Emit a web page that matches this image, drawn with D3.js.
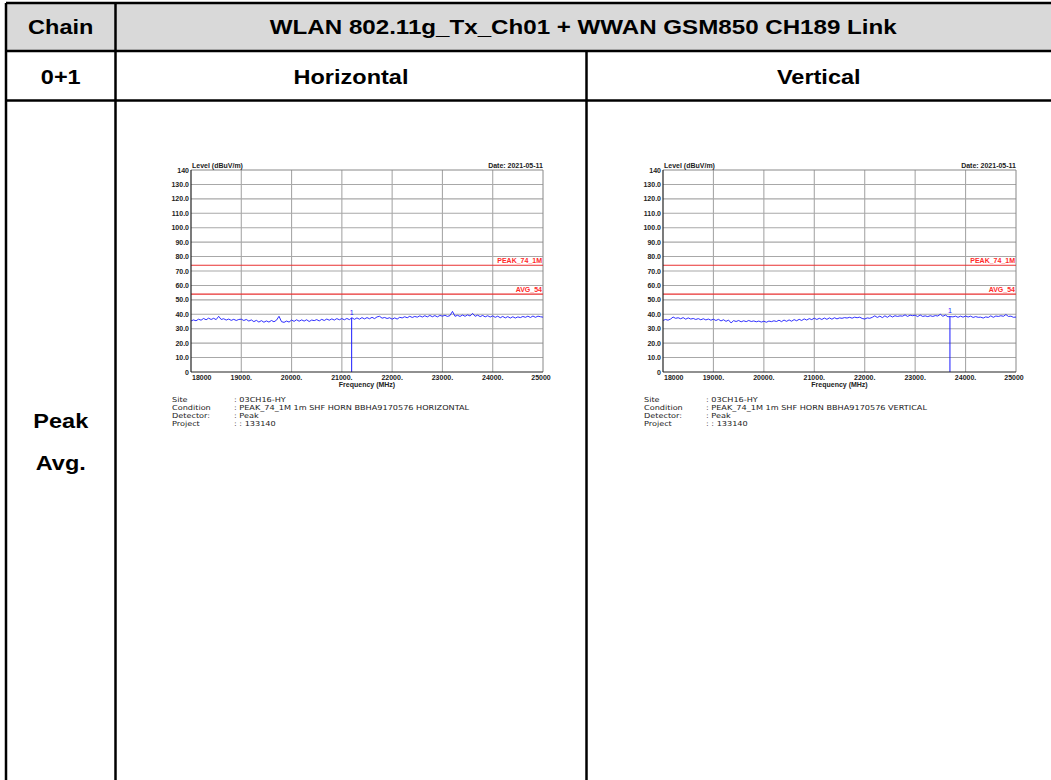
<!DOCTYPE html>
<html lang="en">
<head>
    <meta charset="UTF-8">
    <title>WLAN 802.11g + WWAN GSM850</title>
    <script src="https://d3js.org/d3.v7.min.js"></script>
    <style>
        body { margin: 0; background: #fff; }
        svg { display: block; }
        .cell-text { font-family: "Liberation Sans", Arial, sans-serif; font-weight: bold; font-size: 21px; fill: #000; }
        .tick-text { font-family: "Liberation Sans", Arial, sans-serif; font-weight: bold; font-size: 7px; fill: #222; }
        .info-text { font-family: "DejaVu Sans", sans-serif; font-size: 6.9px; fill: #222; }
    </style>
</head>
<body>
    <div id="chart"></div>
    <script>
        // measured trace, one value every 50 MHz from 18000 to 25000 MHz (dBuV/m)
        const freqs = d3.range(18000, 25001, 50);

        const horizontal_level = [
            35.4, 36.1, 35.5, 36.6, 35.9, 37.1, 36.2, 37.3, 36.4, 37.2, 36.3, 38.6, 36.4, 36.9, 36.0, 36.7, 35.8, 36.5, 35.7, 36.4,
            36.6, 35.7, 36.4, 35.3, 36.1, 34.9, 35.8, 34.6, 35.6, 34.5, 35.4, 34.6, 35.7, 34.8, 35.9, 38.6, 34.9, 34.4, 35.3, 34.6,
            36.0, 35.1, 36.2, 35.2, 36.1, 35.3, 36.2, 35.0, 36.0, 35.6, 36.3, 35.4, 36.5, 35.7, 36.7, 35.9, 36.8, 36.0, 37.0, 36.2,
            37.0, 36.2, 37.1, 36.3, 37.6, 36.5, 37.5, 36.6, 37.7, 36.8, 37.7, 36.9, 37.9, 37.0, 38.2, 38.6, 37.3, 37.8, 37.1, 37.6,
            36.6, 37.5, 36.7, 37.9, 37.5, 38.3, 37.6, 38.6, 37.8, 38.5, 38.0, 38.9, 38.1, 39.0, 38.2, 39.2, 38.3, 39.1, 38.2, 39.2,
            38.7, 39.3, 38.5, 39.1, 42.0, 38.6, 39.3, 38.5, 39.5, 38.6, 39.6, 38.8, 40.6, 38.6, 39.4, 38.4, 39.2, 38.2, 39.0, 38.1,
            38.9, 37.9, 38.7, 37.6, 38.5, 37.5, 38.4, 37.4, 38.3, 37.4, 38.2, 37.7, 38.5, 37.9, 38.7, 37.8, 38.8, 37.9, 38.7, 38.3,
            38.0
        ];

        const vertical_level = [
            35.7, 36.4, 35.9, 36.7, 38.1, 37.2, 37.6, 36.9, 37.7, 36.6, 37.5, 36.7, 37.1, 36.4, 37.0, 36.2, 36.9, 36.1, 36.7, 35.9,
            36.6, 35.7, 36.5, 35.4, 36.2, 35.1, 36.0, 34.0, 35.6, 35.0, 35.7, 34.8, 35.5, 34.9, 35.7, 35.0, 35.4, 34.8, 35.3, 34.6,
            35.2, 34.5, 35.3, 34.9, 35.5, 35.0, 35.9, 34.9, 36.0, 35.1, 36.1, 35.2, 36.3, 35.5, 36.5, 35.7, 36.8, 36.0, 37.0, 36.3,
            37.3, 36.4, 37.2, 36.4, 37.4, 36.5, 37.5, 36.6, 37.6, 36.8, 37.5, 37.2, 37.7, 37.4, 37.9, 37.3, 38.0, 37.6, 38.0, 37.1,
            36.7, 37.5, 37.2, 37.9, 38.9, 37.8, 38.7, 37.7, 38.9, 37.9, 39.1, 38.1, 39.0, 38.5, 38.9, 38.7, 39.6, 38.5, 39.4, 39.0,
            39.4, 38.4, 39.5, 38.5, 38.9, 38.4, 39.0, 38.5, 39.1, 38.8, 40.0, 38.6, 39.5, 38.3, 38.4, 38.2, 38.7, 37.9, 38.7, 38.0,
            38.8, 38.1, 38.7, 37.8, 38.4, 37.9, 38.0, 37.4, 38.2, 37.8, 38.9, 37.9, 38.8, 38.5, 39.0, 38.6, 39.8, 38.5, 38.7, 37.9,
            38.1
        ];

        const x_ticks = [18000, 19000, 20000, 21000, 22000, 23000, 24000, 25000];
        const x_tick_labels = ["18000", "19000.", "20000.", "21000.", "22000.", "23000.", "24000.", "25000"];
        const y_ticks = [0, 10, 20, 30, 40, 50, 60, 70, 80, 90, 100, 110, 120, 130, 140];
        const y_tick_labels = ["0", "10.0", "20.0", "30.0", "40.0", "50.0", "60.0", "70.0", "80.0", "90.0", "100.0", "110.0", "120.0", "130.0", "140"];

        const limit_names = ["PEAK_74_1M", "AVG_54"];
        const limit_values = [74, 54];

        const markers = [{freq: 21195, level: 37.5}, {freq: 23690, level: 38.8}];
        const info_keys = ["Site", "Condition", "Detector:", "Project"];
        const info_horizontal = [": 03CH16-HY", ": PEAK_74_1M 1m SHF HORN BBHA9170576 HORIZONTAL", ": Peak", ": : 133140"];
        const info_vertical = [": 03CH16-HY", ": PEAK_74_1M 1m SHF HORN BBHA9170576 VERTICAL", ": Peak", ": : 133140"];

        const W = 1051, H = 780;
        const svg = d3.select("#chart").append("svg")
            .attr("width", W)
            .attr("height", H);

        // ---- table frame ----
        const tb_left = 6, tb_top = 3, col1 = 115.5, mid = 586.5, row1 = 51, row2 = 100.5, tb_right = 1055;

        svg.append("rect")
            .attr("x", tb_left).attr("y", tb_top)
            .attr("width", tb_right - tb_left).attr("height", row1 - tb_top)
            .attr("fill", "#d9d9d9");

        const frame_lines = [
            [tb_left, tb_top, tb_right, tb_top],
            [tb_left, row1, tb_right, row1],
            [tb_left, row2, tb_right, row2],
            [tb_left, tb_top, tb_left, H + 5],
            [col1, tb_top, col1, H + 5],
            [mid, row1, mid, H + 5]
        ];
        svg.selectAll("line.frame")
            .data(frame_lines)
            .enter()
            .append("line")
            .attr("x1", d => d[0]).attr("y1", d => d[1])
            .attr("x2", d => d[2]).attr("y2", d => d[3])
            .attr("stroke", "#000")
            .attr("stroke-width", 2.5);

        function cell_text(txt, cx, baseline, sx) {
            svg.append("text")
                .attr("class", "cell-text")
                .attr("text-anchor", "middle")
                .attr("transform", `translate(${cx},${baseline}) scale(${sx || 1.12},1)`)
                .text(txt);
        }
        cell_text("Chain", (tb_left + col1) / 2, 34);
        cell_text("WLAN 802.11g_Tx_Ch01 + WWAN GSM850 CH189 Link", (col1 + 1051) / 2, 34, 1.15);
        cell_text("0+1", (tb_left + col1) / 2, 83.5);
        cell_text("Horizontal", (col1 + mid) / 2, 83.5);
        cell_text("Vertical", (mid + 1051) / 2, 83.5);
        cell_text("Peak", (tb_left + col1) / 2, 427.5);
        cell_text("Avg.", (tb_left + col1) / 2, 469.5);

        // ---- spectrum plot ----
        function draw_plot(px, pw, levels, marker, info) {
            const py = 170, ph = 202;
            const g = svg.append("g");

            const x = d3.scaleLinear().domain([18000, 25000]).range([px, px + pw]);
            const y = d3.scaleLinear().domain([0, 140]).range([py + ph, py]);

            // horizontal grid
            g.selectAll("line.hgrid")
                .data(y_ticks.slice(1, -1))
                .enter()
                .append("line")
                .attr("x1", px).attr("x2", px + pw)
                .attr("y1", d => y(d)).attr("y2", d => y(d))
                .attr("stroke", "#a8a8a8")
                .attr("stroke-width", 1.1);

            // vertical grid
            g.selectAll("line.vgrid")
                .data(x_ticks.slice(1, -1))
                .enter()
                .append("line")
                .attr("x1", d => x(d)).attr("x2", d => x(d))
                .attr("y1", py).attr("y2", py + ph)
                .attr("stroke", "#a8a8a8")
                .attr("stroke-width", 1.1);

            // frame: top/right gray, left/bottom dark
            g.append("line").attr("x1", px).attr("x2", px + pw).attr("y1", py).attr("y2", py)
                .attr("stroke", "#888").attr("stroke-width", 1);
            g.append("line").attr("x1", px + pw).attr("x2", px + pw).attr("y1", py).attr("y2", py + ph)
                .attr("stroke", "#888").attr("stroke-width", 1);

            // limit lines
            limit_values.forEach((v, i) => {
                g.append("line")
                    .attr("x1", px).attr("x2", px + pw)
                    .attr("y1", y(v)).attr("y2", y(v))
                    .attr("stroke", "#e83030")
                    .attr("stroke-width", 1.2);
                g.append("text")
                    .attr("class", "tick-text")
                    .attr("x", px + pw - 1)
                    .attr("y", y(v) - 2)
                    .attr("text-anchor", "end")
                    .style("fill", "#ff2a2a")
                    .text(limit_names[i]);
            });

            // trace
            const line = d3.line()
                .x((d, i) => x(freqs[i]))
                .y(d => y(d));
            g.append("path")
                .datum(levels)
                .attr("d", line)
                .attr("fill", "none")
                .attr("stroke", "#1a1aff")
                .attr("stroke-width", 0.9);

            // marker
            g.append("line")
                .attr("x1", x(marker.freq)).attr("x2", x(marker.freq))
                .attr("y1", y(marker.level)).attr("y2", y(0))
                .attr("stroke", "#1a1aff")
                .attr("stroke-width", 1);
            g.append("text")
                .attr("class", "tick-text")
                .attr("x", x(marker.freq))
                .attr("y", y(marker.level) - 3)
                .attr("text-anchor", "middle")
                .style("font-weight", "normal")
                .style("fill", "#1a1aff")
                .text("1");

            // axes lines
            g.append("line").attr("x1", px).attr("x2", px).attr("y1", py).attr("y2", py + ph)
                .attr("stroke", "#222").attr("stroke-width", 1.2);
            g.append("line").attr("x1", px).attr("x2", px + pw).attr("y1", py + ph).attr("y2", py + ph)
                .attr("stroke", "#222").attr("stroke-width", 1.2);

            // y tick labels
            g.selectAll("text.ylab")
                .data(y_ticks)
                .enter()
                .append("text")
                .attr("class", "tick-text")
                .attr("x", px - 2)
                .attr("y", d => y(d) + 2.5)
                .attr("text-anchor", "end")
                .text((d, i) => y_tick_labels[i]);

            // x tick labels
            g.selectAll("text.xlab")
                .data(x_ticks)
                .enter()
                .append("text")
                .attr("class", "tick-text")
                .attr("x", (d, i) => i === 0 ? px + 1 : x(d) + (i === x_ticks.length - 1 ? -2 : 0))
                .attr("y", py + ph + 8)
                .attr("text-anchor", (d, i) => i === 0 ? "start" : "middle")
                .text((d, i) => x_tick_labels[i]);

            g.append("text")
                .attr("class", "tick-text")
                .attr("x", px + pw / 2)
                .attr("y", py + ph + 15)
                .attr("text-anchor", "middle")
                .text("Frequency (MHz)");

            g.append("text")
                .attr("class", "tick-text")
                .attr("x", px + 1)
                .attr("y", py - 2)
                .text("Level (dBuV/m)");

            g.append("text")
                .attr("class", "tick-text")
                .attr("x", px + pw)
                .attr("y", py - 2)
                .attr("text-anchor", "end")
                .text("Date: 2021-05-11");

            // info block, glyphs stretched a bit to the width of the reference font
            const info_y = [401.5, 409.7, 417.9, 426.1];
            info_keys.forEach((k, i) => {
                g.append("text")
                    .attr("class", "info-text")
                    .attr("transform", `translate(${px - 19},${info_y[i]}) scale(1.18,1)`)
                    .text(k);
                g.append("text")
                    .attr("class", "info-text")
                    .attr("transform", `translate(${px + 43},${info_y[i]}) scale(1.18,1)`)
                    .text(info[i]);
            });
        }

        draw_plot(191, 352, horizontal_level, markers[0], info_horizontal);
        draw_plot(663, 353, vertical_level, markers[1], info_vertical);
    </script>
</body>
</html>
